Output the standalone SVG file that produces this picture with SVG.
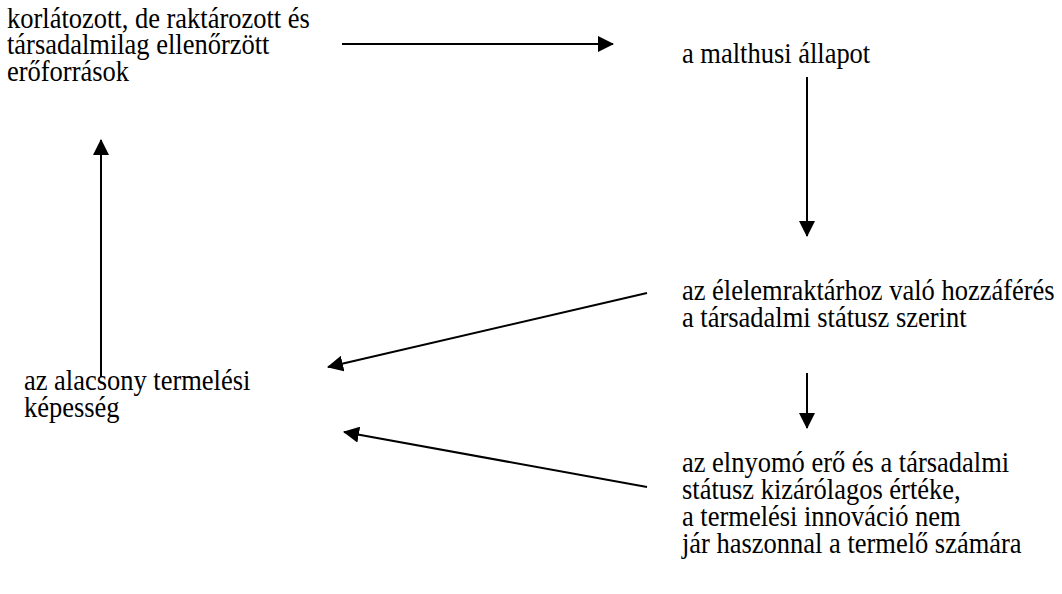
<svg xmlns="http://www.w3.org/2000/svg" width="1062" height="594" viewBox="0 0 1062 594">
<defs>
<style>
.c line{stroke:#000;stroke-width:2;fill:none}
</style>
<marker id="ah" viewBox="0 0 16 16" refX="15" refY="8" markerWidth="16" markerHeight="16" markerUnits="userSpaceOnUse" orient="auto">
<path d="M0,0 L16,8 L0,16 Z" fill="#000"/>
</marker>
</defs>
<rect width="1062" height="594" fill="#fff"/>
<g id="n1" transform="translate(7 0) scale(0.883 1)" font-family="Times New Roman" font-size="30">
<text x="0" y="28">korlátozott, de raktározott és</text>
<text x="0" y="54.5">társadalmilag ellenőrzött</text>
<text x="0" y="81">erőforrások</text>
</g>
<g id="n2" transform="translate(682 0) scale(0.883 1)" font-family="Times New Roman" font-size="30">
<text x="0" y="63">a malthusi állapot</text>
</g>
<g id="n3" transform="translate(682 0) scale(0.883 1)" font-family="Times New Roman" font-size="30">
<text x="0" y="300">az élelemraktárhoz való hozzáférés</text>
<text x="0" y="327">a társadalmi státusz szerint</text>
</g>
<g id="n4" transform="translate(682 0) scale(0.883 1)" font-family="Times New Roman" font-size="30">
<text x="0" y="472">az elnyomó erő és a társadalmi</text>
<text x="0" y="499">státusz kizárólagos értéke,</text>
<text x="0" y="526">a termelési innováció nem</text>
<text x="0" y="553">jár haszonnal a termelő számára</text>
</g>
<g id="n5" transform="translate(24 0) scale(0.883 1)" font-family="Times New Roman" font-size="30">
<text x="0" y="390">az alacsony termelési</text>
<text x="0" y="417">képesség</text>
</g>
<g class="c" id="connectors">
<line x1="342" y1="44" x2="613" y2="44" marker-end="url(#ah)"/>
<line x1="807" y1="77" x2="807" y2="236" marker-end="url(#ah)"/>
<line x1="807" y1="373" x2="807" y2="428" marker-end="url(#ah)"/>
<line x1="647" y1="293" x2="328" y2="367" marker-end="url(#ah)"/>
<line x1="647" y1="487" x2="344" y2="432" marker-end="url(#ah)"/>
<line x1="101" y1="377" x2="101" y2="140" marker-end="url(#ah)"/>
</g>
</svg>
